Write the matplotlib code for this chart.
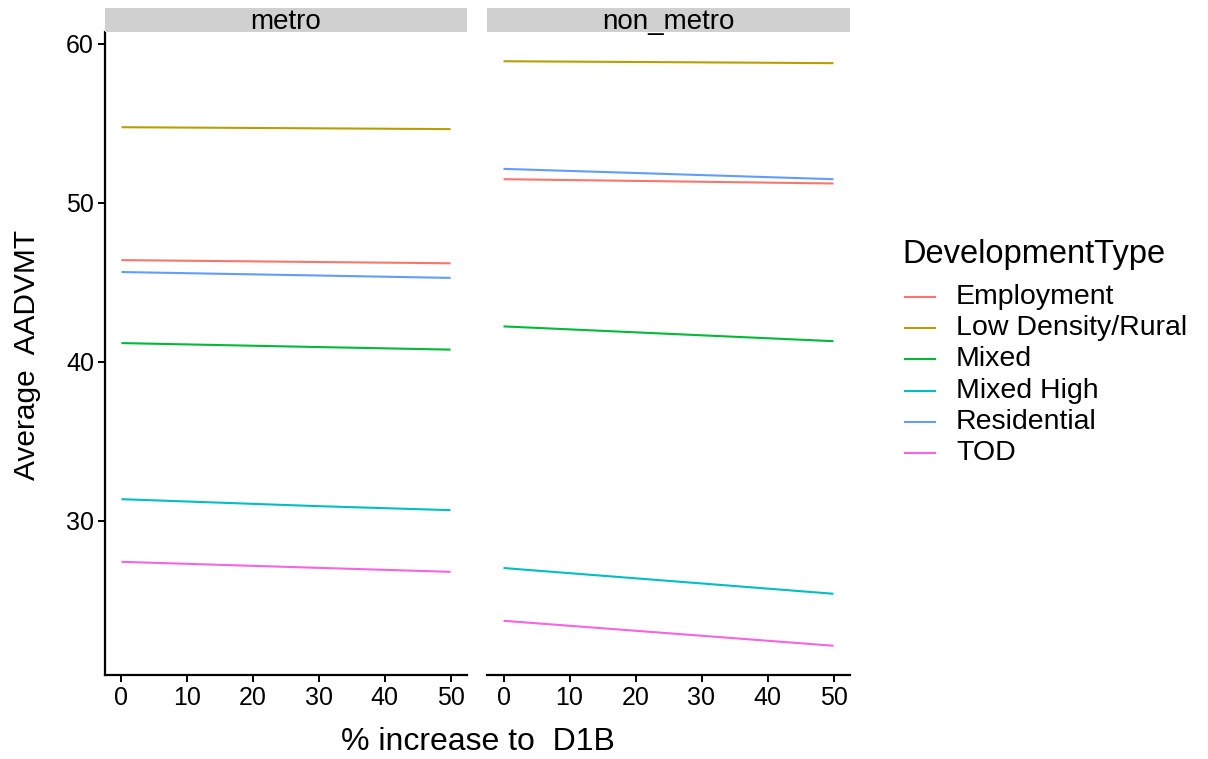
import matplotlib
matplotlib.use("Agg")
import matplotlib.pyplot as plt
from matplotlib import font_manager
from matplotlib.lines import Line2D

# === Data ===
increase = [0, 30, 50]
dev_types = ["Employment", "Low Density/Rural", "Mixed", "Mixed High", "Residential", "TOD"]
colors = ["#F8766D", "#B79F00", "#00BA38", "#00BFC4", "#619CFF", "#F564E3"]

metro_employment = [46.40, 46.28, 46.20]
metro_low_density = [54.76, 54.69, 54.64]
metro_mixed = [41.18, 40.93, 40.77]
metro_mixed_high = [31.36, 30.92, 30.67]
metro_residential = [45.65, 45.43, 45.28]
metro_tod = [27.42, 27.04, 26.79]

non_metro_employment = [51.49, 51.33, 51.22]
non_metro_low_density = [58.91, 58.84, 58.79]
non_metro_mixed = [42.23, 41.67, 41.30]
non_metro_mixed_high = [27.03, 26.06, 25.41]
non_metro_residential = [52.14, 51.75, 51.49]
non_metro_tod = [23.71, 22.77, 22.14]

panels = {
  "metro": [metro_employment, metro_low_density, metro_mixed,
            metro_mixed_high, metro_residential, metro_tod],
  "non_metro": [non_metro_employment, non_metro_low_density, non_metro_mixed,
                non_metro_mixed_high, non_metro_residential, non_metro_tod],
}

# === Fonts ===
installed = {f.name for f in font_manager.fontManager.ttflist}
base_font = "Liberation Sans" if "Liberation Sans" in installed else "DejaVu Sans"
plt.rcParams["font.family"] = [base_font, "DejaVu Sans"]

# === Figure ===
fig = plt.figure(figsize=(12.08, 7.59), dpi=100)
W, H = 1208, 759

def fx(px):
  return px / W

def fy(py):
  return 1 - py / H

def px_axes(x0, x1, y0, y1):
  return fig.add_axes([fx(x0), fy(y1), (x1 - x0) / W, (y1 - y0) / H])

axes = [px_axes(105, 467, 32, 675), px_axes(487, 850, 32, 675)]

for ax, (name, series) in zip(axes, panels.items()):
  for vals, col in zip(series, colors):
    ax.plot(increase, vals, color=col, lw=1.5, solid_capstyle="butt")
  ax.set_xlim(-2.5, 52.5)
  ax.set_ylim(20.3, 60.75)
  ax.set_xticks([0, 10, 20, 30, 40, 50])
  ax.set_yticks([30, 40, 50, 60])
  for s in ["top", "right"]:
    ax.spines[s].set_visible(False)
  ax.spines["bottom"].set_linewidth(1.6)
  ax.spines["left"].set_linewidth(1.6)
  ax.tick_params(axis="both", direction="out", length=5, width=1.4,
                 labelsize=18, colors="black", pad=3)

  # facet strip
  strip = fig.add_axes([ax.get_position().x0, fy(32),
                        ax.get_position().width, 24 / H])
  strip.set_facecolor("#D0D0D0")
  strip.set_xticks([])
  strip.set_yticks([])
  for s in strip.spines.values():
    s.set_visible(False)
  strip.text(0.5, 0.42, name, ha="center", va="center", fontsize=20)

axes[1].spines["left"].set_visible(False)
axes[1].tick_params(axis="y", left=False, labelleft=False)

# Axis titles
fig.text(fx(478), fy(742), "% increase to  D1B", ha="center", va="center",
         fontsize=23)
fig.text(fx(27), fy(355), "Average  AADVMT", ha="center", va="center",
         rotation=90, fontsize=21.5)

# Legend (placed by hand to match ggplot's spacing)
fig.text(fx(902), fy(254), "DevelopmentType", ha="left", va="center",
         fontsize=23.5)
for i, (label, col) in enumerate(zip(dev_types, colors)):
  yy = fy(297 + i * 31.2)
  fig.add_artist(Line2D([fx(905), fx(935)], [yy, yy], color=col, lw=1.5,
                        transform=fig.transFigure))
  fig.text(fx(956), yy, label, ha="left", va="center", fontsize=20.5)

fig.savefig("out.png", dpi=100)
